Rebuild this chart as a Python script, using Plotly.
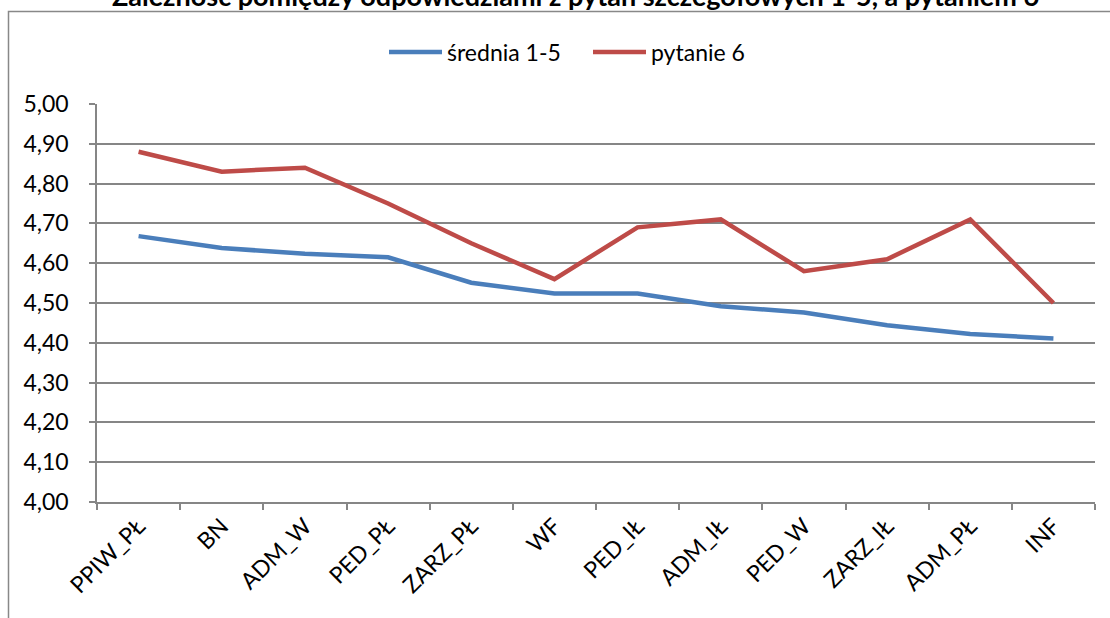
import plotly.graph_objects as go

categories = ["PPIW_PŁ", "BN", "ADM_W", "PED_PŁ", "ZARZ_PŁ", "WF", "PED_IŁ",
              "ADM_IŁ", "PED_W", "ZARZ_IŁ", "ADM_PŁ", "INF"]
srednia_1_5 = [4.668, 4.638, 4.624, 4.615, 4.551, 4.524, 4.524, 4.492, 4.476, 4.444, 4.422, 4.411]
pytanie_6 = [4.88, 4.83, 4.84, 4.75, 4.65, 4.56, 4.69, 4.71, 4.58, 4.61, 4.71, 4.50]
series_names = ["średnia 1-5", "pytanie 6"]
title_text = "Zależność pomiędzy odpowiedziami z pytań szczegółowych 1-5, a pytaniem 6"

W, H = 1110, 618
L, R, T, B = 97, 15, 104, 116
pw = W - L - R
ph = H - T - B

def px2x(px):
    return (px - L) / pw

def py2y(py):
    return (H - B - py) / ph

FONT = "Lato"
GRID = "#868686"
FS = 23

fig = go.Figure()
fig.add_trace(go.Scatter(x=categories, y=srednia_1_5, name=series_names[0], mode="lines",
                         line=dict(color="#4A7EBB", width=4.5)))
fig.add_trace(go.Scatter(x=categories, y=pytanie_6, name=series_names[1], mode="lines",
                         line=dict(color="#BE4B48", width=4.5)))

fig.update_layout(
    width=W, height=H,
    margin=dict(l=L, r=R, t=T, b=B, pad=0, autoexpand=False),
    paper_bgcolor="white", plot_bgcolor="white",
    separators=", ",
    font=dict(family=FONT, size=FS, color="black"),
    showlegend=True,
    legend=dict(orientation="h", x=px2x(384), xanchor="left", y=py2y(52), yanchor="middle",
                font=dict(family=FONT, size=FS), bgcolor="rgba(0,0,0,0)",
                itemwidth=53, entrywidth=136, entrywidthmode="pixels", tracegroupgap=0),
    xaxis=dict(type="category", range=[-0.5, len(categories) - 0.5], showgrid=False,
               showline=True, linecolor=GRID, linewidth=1.5,
               ticks="outside", ticklen=6, tickcolor=GRID, tickwidth=1.5, tickson="boundaries",
               tickangle=-45, tickfont=dict(family=FONT, size=FS), zeroline=False),
    yaxis=dict(range=[4, 5], dtick=0.1, tick0=4, tickformat=".2f", showgrid=True, gridcolor=GRID,
               gridwidth=1.5, showline=True, linecolor=GRID, linewidth=1.5, ticks="outside",
               ticklen=6, tickcolor=GRID, tickwidth=1.5, tickfont=dict(family=FONT, size=FS),
               ticklabelstandoff=16, zeroline=False),
    shapes=[dict(type="rect", xref="paper", yref="paper",
                 x0=px2x(8.5), x1=px2x(1125), y0=py2y(640), y1=py2y(11.5),
                 line=dict(color="#888888", width=1.5), fillcolor="rgba(0,0,0,0)", layer="below")],
    annotations=[dict(text="<b>" + title_text + "</b>", xref="paper", yref="paper",
                      x=px2x(575), xanchor="center", y=py2y(-4), yanchor="middle",
                      showarrow=False, font=dict(family=FONT, size=27, color="black"))],
)

fig.write_html("out.html", config={"displayModeBar": False},
               post_script="document.body.style.margin='0';document.body.style.overflow='hidden';")
